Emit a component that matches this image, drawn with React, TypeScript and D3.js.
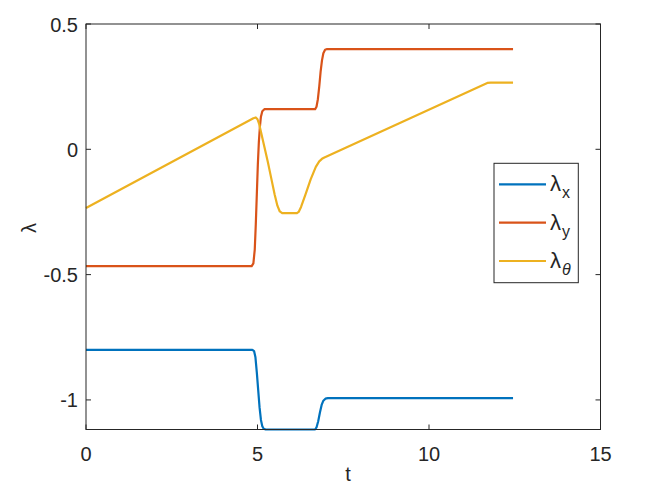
import React from "react";
import * as d3 from "d3";

const xTicks = [0, 5, 10, 15];
const yTicks = [-1, -0.5, 0, 0.5];
const yTickLabels = ["-1", "-0.5", "0", "0.5"];

const tX = [0, 4.85, 4.9, 4.94, 4.98, 5.02, 5.06, 5.1, 5.14, 5.18, 5.24, 6.68, 6.72, 6.77, 6.82, 6.87, 6.92, 6.98, 7.05, 12.45];
const lambdaX = [-0.8, -0.8, -0.805, -0.83, -0.89, -0.96, -1.03, -1.08, -1.105, -1.115, -1.118, -1.118, -1.11, -1.085, -1.05, -1.02, -1.003, -0.995, -0.993, -0.993];

const tY = [0, 4.83, 4.88, 4.92, 4.95, 4.98, 5.01, 5.04, 5.07, 5.1, 5.14, 5.2, 6.68, 6.72, 6.76, 6.8, 6.84, 6.88, 6.92, 6.97, 7.03, 12.45];
const lambdaY = [-0.466, -0.466, -0.455, -0.4, -0.3, -0.18, -0.06, 0.03, 0.09, 0.13, 0.152, 0.16, 0.16, 0.17, 0.2, 0.25, 0.31, 0.355, 0.383, 0.397, 0.4, 0.4];

const tT = [0, 4.88, 4.95, 5.0, 5.05, 5.1, 5.2, 5.3, 5.4, 5.5, 5.58, 5.65, 5.72, 6.15, 6.2, 6.27, 6.4, 6.55, 6.7, 6.8, 6.88, 6.95, 11.7, 11.8, 12.45];
const lambdaT = [-0.234, 0.124, 0.127, 0.12, 0.1, 0.07, 0.01, -0.05, -0.115, -0.18, -0.225, -0.248, -0.255, -0.255, -0.25, -0.23, -0.18, -0.12, -0.07, -0.048, -0.038, -0.033, 0.265, 0.266, 0.266];

const colors = ["#0072BD", "#D95319", "#EDB120"];

export default function App() {
  const W = 664, H = 498;
  const L = 86, R = 600.5, T = 24, B = 429.5;
  const x = d3.scaleLinear().domain([0, 15]).range([L, R]);
  const y = d3.scaleLinear().domain([-1.118, 0.5]).range([B, T]);
  const line = d3.line<[number, number]>().x(d => x(d[0])).y(d => y(d[1]));
  const series = [
    tX.map((t, i) => [t, lambdaX[i]] as [number, number]),
    tY.map((t, i) => [t, lambdaY[i]] as [number, number]),
    tT.map((t, i) => [t, lambdaT[i]] as [number, number]),
  ];
  const ax = "#262626";
  const font = "'Liberation Sans', Arial, sans-serif";
  const legY = [184.3, 222.7, 261];
  const subs = ["x", "y", "θ"];
  return (
    <svg width={W} height={H} style={{ position: "absolute", left: 0, top: 0, background: "#fff" }} fontFamily={font}>
      <rect x={0} y={0} width={W} height={H} fill="#fff" />
      {series.map((s, i) => (
        <path key={i} d={line(s) || ""} fill="none" stroke={colors[i]} strokeWidth={2.2} strokeLinejoin="round" />
      ))}
      <rect x={L} y={T} width={R - L} height={B - T} fill="none" stroke={ax} strokeWidth={1} />
      {xTicks.map(t => (
        <g key={"x" + t}>
          <line x1={x(t)} x2={x(t)} y1={B} y2={B - 5} stroke={ax} />
          <line x1={x(t)} x2={x(t)} y1={T} y2={T + 5} stroke={ax} />
          <text x={x(t)} y={461} textAnchor="middle" fontSize={20} fill={ax}>{t}</text>
        </g>
      ))}
      {yTicks.map((t, i) => (
        <g key={"y" + t}>
          <line x1={L} x2={L + 5} y1={y(t)} y2={y(t)} stroke={ax} />
          <line x1={R} x2={R - 5} y1={y(t)} y2={y(t)} stroke={ax} />
          <text x={78} y={y(t) + 7.5} textAnchor="end" fontSize={20} fill={ax}>{yTickLabels[i]}</text>
        </g>
      ))}
      <text x={348} y={481} textAnchor="middle" fontSize={20} fill={ax}>t</text>
      <text transform="translate(36,228) rotate(-90)" textAnchor="middle" fontSize={20} fill={ax}>λ</text>
      <rect x={494} y={163.3} width={84.3} height={119.4} fill="#fff" stroke={ax} strokeWidth={1} />
      {legY.map((ly, i) => (
        <g key={"l" + i}>
          <line x1={499} x2={546} y1={ly} y2={ly} stroke={colors[i]} strokeWidth={2.2} />
          <text x={550} y={ly + 7} fontSize={22} fill={ax}>λ</text>
          <text x={562} y={ly + 14} fontSize={16} fill={ax} fontStyle={i === 2 ? "italic" : "normal"}>{subs[i]}</text>
        </g>
      ))}
    </svg>
  );
}
